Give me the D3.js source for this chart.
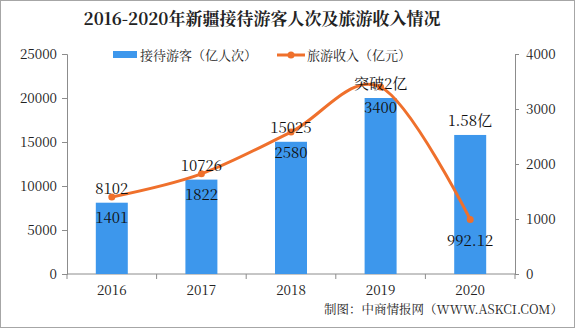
<!DOCTYPE html>
<html><head><meta charset="utf-8">
<script src="https://cdn.jsdelivr.net/npm/d3@7"></script>
<style>
body{margin:0;background:#fff;}
svg{display:block;}
text{font-family:"Noto Serif CJK SC","Liberation Serif","Noto Sans CJK SC",serif;}
</style></head>
<body><svg id="c" width="575" height="328"></svg>
<script>
const years = ["2016","2017","2018","2019","2020"];
const tourists = [8102, 10726, 15025, 20000, 15800];
const touristLabels = ["8102","10726","15025","突破2亿","1.58亿"];
const revenue = [1401, 1822, 2580, 3400, 992.12];
const revenueLabels = ["1401","1822","2580","3400","992.12"];
const leftTicks = [0,5000,10000,15000,20000,25000];
const rightTicks = [0,1000,2000,3000,4000];
const title = "2016-2020年新疆接待游客人次及旅游收入情况";
const legendNames = ["接待游客（亿人次）","旅游收入（亿元）"];
const source = "制图：中商情报网（WWW.ASKCI.COM）";

const W=575,H=328, L=67, R=515, T=54, B=274;
const barColor="#3D97EC", lineColor="#EF702C", axisColor="#8c8c8c";
const svg=d3.select("#c");
svg.append("rect").attr("x",0.5).attr("y",0.5).attr("width",W-1).attr("height",H-1)
  .attr("fill","#fff").attr("stroke","#a6a6a6");

const x=d3.scaleBand().domain(years).range([L,R]).paddingInner(0.643).paddingOuter(0.3215);
const yL=d3.scaleLinear().domain([0,25000]).range([B,T]);
const yR=d3.scaleLinear().domain([0,4000]).range([B,T]);
const xc=d=>x(d)+x.bandwidth()/2;

// title
svg.append("text").attr("x",262).attr("y",25).attr("text-anchor","middle")
  .attr("font-size",17).attr("font-weight","bold").attr("fill","#222").text(title);

// axes
const gl=svg.append("g").attr("transform",`translate(${L},0)`)
  .call(d3.axisLeft(yL).tickValues(leftTicks).tickSize(5).tickPadding(5).tickFormat(d3.format("d")));
const gr=svg.append("g").attr("transform",`translate(${R},0)`)
  .call(d3.axisRight(yR).tickValues(rightTicks).tickSize(4).tickPadding(7).tickFormat(d3.format("d")));
[gl,gr].forEach(g=>{
  g.select(".domain").attr("stroke",axisColor);
  g.selectAll(".tick line").attr("stroke",axisColor);
  g.selectAll(".tick text").attr("font-size",13.5).attr("fill","#222")
   .attr("font-family","Liberation Serif, serif");
});
// bottom axis
const gb=svg.append("g");
gb.append("line").attr("x1",L).attr("x2",R).attr("y1",B).attr("y2",B).attr("stroke",axisColor);
d3.range(years.length+1).forEach(i=>{
  const xx=L+i*(R-L)/years.length;
  gb.append("line").attr("x1",xx).attr("x2",xx).attr("y1",B).attr("y2",B+5).attr("stroke",axisColor);
});
gb.selectAll("text.yr").data(years).join("text").attr("class","yr")
  .attr("x",d=>xc(d)).attr("y",B+21).attr("text-anchor","middle")
  .attr("font-size",13.5).attr("fill","#222").attr("font-family","Liberation Serif, serif").text(d=>d);

// bars
svg.selectAll("rect.bar").data(years).join("rect").attr("class","bar")
  .attr("x",d=>x(d)).attr("width",x.bandwidth())
  .attr("y",(d,i)=>yL(tourists[i])).attr("height",(d,i)=>B-yL(tourists[i]))
  .attr("fill",barColor);

// line
const pts=years.map((d,i)=>[xc(d),yR(revenue[i])]);
svg.append("path").attr("d",d3.line().curve(d3.curveCardinal.tension(0))(pts))
  .attr("fill","none").attr("stroke",lineColor).attr("stroke-width",3);
svg.selectAll("circle.pt").data(pts).join("circle").attr("class","pt")
  .attr("cx",d=>d[0]).attr("cy",d=>d[1]).attr("r",3.5).attr("fill",lineColor);

// labels
svg.selectAll("text.bl").data(years).join("text").attr("class","bl")
  .attr("x",d=>xc(d)).attr("y",(d,i)=>yL(tourists[i])-14).attr("dy","0.35em")
  .attr("text-anchor","middle").attr("font-size",15).attr("fill","#111")
  .text((d,i)=>touristLabels[i]);
svg.selectAll("text.ll").data(years).join("text").attr("class","ll")
  .attr("x",d=>xc(d)).attr("y",(d,i)=>yR(revenue[i])+21).attr("dy","0.35em")
  .attr("text-anchor","middle").attr("font-size",15).attr("fill","#111")
  .text((d,i)=>revenueLabels[i]);

// legend
const lg=svg.append("g");
lg.append("rect").attr("x",113).attr("y",51).attr("width",24).attr("height",7).attr("fill",barColor);
lg.append("text").attr("x",140).attr("y",55).attr("dy","0.35em").attr("font-size",13).attr("fill","#222").text(legendNames[0]);
lg.append("line").attr("x1",277).attr("x2",305).attr("y1",55).attr("y2",55).attr("stroke",lineColor).attr("stroke-width",3);
lg.append("circle").attr("cx",291).attr("cy",55).attr("r",3.5).attr("fill",lineColor);
lg.append("text").attr("x",307).attr("y",55).attr("dy","0.35em").attr("font-size",13).attr("fill","#222").text(legendNames[1]);

// source
svg.append("text").attr("x",563).attr("y",310).attr("dy","0.35em").attr("text-anchor","end")
  .attr("font-size",12.5).attr("fill","#222")
  .attr("font-family","Liberation Sans, Noto Sans CJK SC, sans-serif").text(source);
</script></body></html>
